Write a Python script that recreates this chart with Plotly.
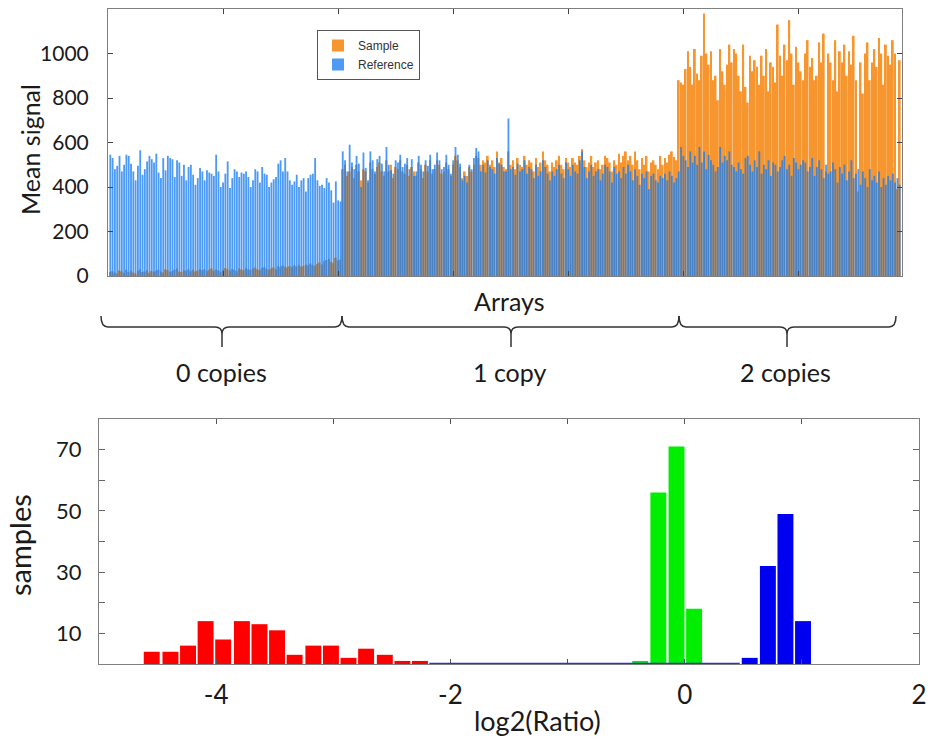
import plotly.graph_objects as go

# ---------------- data: top panel (mean signal per array) ----------------
ref0 = [545, 530, 480, 495, 540, 470, 500, 545, 540, 505, 470, 430, 495, 565, 455, 480, 515, 540, 525, 510,
        550, 465, 440, 530, 475, 540, 530, 525, 445, 520, 510, 450, 500, 430, 490, 500, 455, 410, 440, 485,
        470, 430, 475, 465, 460, 450, 545, 470, 400, 420, 460, 515, 395, 440, 480, 470, 445, 465, 460, 470,
        445, 400, 430, 480, 470, 420, 490, 460, 455, 400, 420, 435, 445, 505, 520, 470, 530, 470, 430, 410,
        425, 455, 400, 430, 440, 380, 440, 455, 460, 530, 430, 405, 410, 395, 440, 420, 385, 330, 425, 340, 335]
smp0 = [18, 22, 15, 12, 25, 20, 14, 28, 18, 24, 16, 12, 22, 30, 18, 20, 26, 15, 22, 19,
        24, 28, 20, 16, 30, 26, 18, 22, 28, 34, 20, 18, 26, 24, 30, 22, 28, 20, 24, 32,
        26, 30, 22, 28, 34, 24, 30, 26, 20, 28, 36, 30, 24, 32, 28, 22, 34, 30, 26, 36,
        30, 28, 34, 38, 30, 26, 36, 40, 32, 28, 34, 38, 30, 44, 40, 46, 42, 38, 44, 40,
        48, 44, 50, 42, 46, 52, 48, 56, 50, 46, 54, 60, 52, 66, 72, 78, 64, 58, 82, 70, 74]
ref1 = [560, 520, 470, 590, 510, 480, 540, 505, 400, 555, 485, 430, 560, 520, 470, 525, 540, 505, 470, 580,
        500, 475, 460, 520, 510, 545, 490, 505, 530, 480, 525, 450, 470, 540, 500, 470, 520, 495, 545, 480,
        500, 555, 520, 480, 490, 545, 500, 460, 520, 580, 545, 505, 430, 450, 420, 500, 480, 530, 575, 560,
        470, 500, 465, 520, 490, 480, 460, 530, 505, 500, 470, 470, 708, 480, 490, 455, 505, 470, 480, 520,
        460, 490, 480, 440, 500, 450, 470, 520, 490, 460, 430, 470, 450, 480, 500, 460, 440, 510, 480, 450,
        500, 470, 460, 520, 560, 490, 440, 470, 500, 450, 470, 480, 430, 460, 500, 490, 470, 420, 490, 460,
        470, 440, 490, 460, 500, 470, 430, 480, 450, 410, 460, 440, 470, 390, 450, 460, 430, 420, 450, 440,
        460, 430, 470, 450, 420, 440]
smp1 = [480, 500, 450, 470, 490, 440, 500, 470, 430, 480, 470, 420, 510, 480, 460, 490, 510, 470, 450, 520,
        470, 500, 440, 490, 480, 520, 470, 460, 500, 450, 490, 470, 450, 510, 480, 440, 500, 470, 520, 460,
        480, 520, 500, 460, 470, 510, 480, 450, 500, 540, 520, 490, 440, 470, 450, 490, 470, 500, 540, 530,
        500, 520, 510, 540, 500, 520, 490, 560, 510, 530, 490, 480, 560, 500, 520, 480, 530, 500, 490, 540,
        500, 520, 510, 470, 530, 490, 510, 560, 520, 500, 470, 510, 490, 520, 540, 500, 480, 530, 510, 490,
        530, 510, 500, 540, 570, 520, 490, 510, 540, 490, 510, 520, 480, 500, 540, 530, 510, 470, 520, 500,
        550, 510, 540, 560, 520, 540, 500, 560, 520, 480, 530, 500, 540, 470, 510, 520, 500, 480, 540, 500,
        530, 510, 545, 560, 535, 520]
ref2 = [470, 580, 540, 520, 490, 560, 510, 540, 500, 580, 510, 560, 480, 545, 520, 500, 470, 490, 580, 510,
        540, 520, 560, 500, 490, 470, 510, 480, 460, 530, 540, 500, 470, 520, 490, 560, 460, 500, 480, 520,
        450, 510, 500, 470, 490, 520, 540, 480, 500, 450, 530, 510, 480, 500, 520, 510, 470, 490, 530, 450,
        490, 520, 480, 440, 500, 460, 470, 510, 480, 420, 490, 460, 500, 430, 470, 520, 440, 460, 480, 410,
        470, 440, 400, 480, 430, 450, 420, 470, 400, 440, 410, 450, 430, 460, 420, 440, 410]
smp2 = [880, 870, 860, 930, 1010, 940, 860, 1020, 910, 880, 990, 1180, 1000, 950, 1010, 880, 900, 790, 1020, 920,
        860, 950, 1040, 960, 1020, 1000, 900, 830, 1040, 850, 780, 990, 920, 970, 940, 860, 990, 900, 1020, 830,
        960, 940, 870, 1130, 990, 900, 1040, 970, 1150, 1000, 860, 1030, 960, 920, 880, 1000, 1060, 940, 980, 880,
        900, 1050, 960, 1090, 470, 1000, 960, 880, 1060, 830, 1010, 960, 1040, 900, 1010, 950, 1080, 880, 380, 960,
        820, 1000, 1050, 880, 960, 1020, 940, 1070, 1000, 860, 1040, 990, 950, 1060, 1000, 390, 970]

reference = ref0 + ref1 + ref2
sample = smp0 + smp1 + smp2
arrays = list(range(1, len(reference) + 1))

# ---------------- data: bottom panel (histogram of log2 ratios) ----------------
red_x = [-4.55, -4.39, -4.24, -4.09, -3.94, -3.78, -3.63, -3.48, -3.33, -3.17, -3.02, -2.87, -2.72, -2.56, -2.41, -2.26]
red_n = [4, 4, 6, 14, 8, 14, 13, 11, 3, 6, 6, 2, 5, 3, 1, 1]
green_x = [-0.38, -0.225, -0.07, 0.08]
green_n = [1, 56, 71, 18]
blue_x = [0.555, 0.71, 0.86, 1.01]
blue_n = [2, 32, 49, 14]

W, H = 930, 744
def px(x):
    return x / W
def py(y):
    return 1 - y / H

FONT = "Lato, Open Sans, sans-serif"
TXT = "#1a1a1a"
AX = "#7f7f7f"

fig = go.Figure()
fig.add_trace(go.Bar(x=arrays, y=sample, name="Sample", marker=dict(color="#f7952e", line=dict(width=0)),
                     xaxis="x", yaxis="y"))
fig.add_trace(go.Bar(x=arrays, y=reference, name="Reference",
                     marker=dict(color="rgba(25,125,240,0.78)", line=dict(width=0)),
                     xaxis="x", yaxis="y"))

hb = 0.136
fig.add_trace(go.Bar(x=red_x, y=red_n, width=hb, marker=dict(color="#ff0000", line=dict(width=0)),
                     showlegend=False, xaxis="x2", yaxis="y2"))
fig.add_trace(go.Bar(x=green_x, y=green_n, width=hb, marker=dict(color="#00ee00", line=dict(width=0)),
                     showlegend=False, xaxis="x2", yaxis="y2"))
fig.add_trace(go.Bar(x=blue_x, y=blue_n, width=hb, marker=dict(color="#0000f0", line=dict(width=0)),
                     showlegend=False, xaxis="x2", yaxis="y2"))

shapes = []
# thin blue baseline between groups (zero-count bins)
shapes.append(dict(type="line", xref="x2", yref="y2", x0=-2.18, x1=0.47, y0=0.2, y1=0.2, layer="above",
                   line=dict(color="#2a2aff", width=1.3)))

def brace(x0, xm, x1):
    yt, yh, yb = 316, 327, 347
    r = 7
    p = (f"M {px(x0)},{py(yt)} Q {px(x0)},{py(yh)} {px(x0 + r)},{py(yh)} "
         f"L {px(xm - r)},{py(yh)} Q {px(xm)},{py(yh)} {px(xm)},{py(yh + r)} L {px(xm)},{py(yb)} "
         f"M {px(xm)},{py(yh + r)} Q {px(xm)},{py(yh)} {px(xm + r)},{py(yh)} "
         f"L {px(x1 - r)},{py(yh)} Q {px(x1)},{py(yh)} {px(x1)},{py(yt)}")
    return dict(type="path", xref="paper", yref="paper", path=p, line=dict(color="#333333", width=1.5))

shapes += [brace(101, 222, 342), brace(342, 511, 679), brace(679, 787, 896)]

annotations = [
    dict(text="Arrays", x=px(510), y=py(301), size=25),
    dict(text="0 copies", x=px(221), y=py(372), size=25),
    dict(text="1 copy", x=px(510), y=py(372), size=25),
    dict(text="2 copies", x=px(785), y=py(372), size=25),
    dict(text="Mean signal", x=px(30), y=py(150), size=25, angle=-90),
    dict(text="samples", x=px(19), y=py(545), size=29, angle=-90),
    dict(text="log2(Ratio)", x=px(537), y=py(720), size=27),
]
ann = []
for a in annotations:
    ann.append(dict(text=a["text"], x=a["x"], y=a["y"], xref="paper", yref="paper", showarrow=False,
                    xanchor="center", yanchor="middle", textangle=a.get("angle", 0),
                    font=dict(family=FONT, size=a["size"], color=TXT)))

fig.update_layout(
    width=W, height=H, autosize=False,
    margin=dict(l=0, r=0, t=0, b=0),
    paper_bgcolor="white", plot_bgcolor="white",
    barmode="overlay", bargap=0.2,
    font=dict(family=FONT, color=TXT),
    showlegend=True,
    legend=dict(x=px(317), y=py(30), xanchor="left", yanchor="top",
                bgcolor="white", bordercolor="#555555", borderwidth=1,
                font=dict(family="Liberation Sans, Arial, sans-serif", size=12, color="#333"),
                itemwidth=30, tracegroupgap=0),
    xaxis=dict(domain=[px(108), px(902)], anchor="y", range=[0, 345], automargin=False,
               tickvals=[50, 100, 150, 200, 250, 300], showticklabels=False,
               ticks="inside", ticklen=5, tickcolor="#444", showline=True, linecolor=AX, mirror="ticks",
               showgrid=False, zeroline=False),
    yaxis=dict(domain=[py(276), py(9)], anchor="x", range=[0, 1200], automargin=False,
               tickvals=[0, 200, 400, 600, 800, 1000], ticks="inside", ticklen=5, tickcolor="#444",
               showline=True, linecolor=AX, mirror="ticks", showgrid=False, zeroline=False,
               ticklabelstandoff=14,
               tickfont=dict(family=FONT, size=21, color=TXT)),
    xaxis2=dict(domain=[px(99), px(919)], anchor="y2", range=[-5, 2], automargin=False,
                tickvals=[-5, -4, -3, -2, -1, 0, 1, 2], ticktext=["", "-4", "", "-2", "", "0", "", "2"],
                ticks="inside", ticklen=5, tickcolor="#555", showline=True, linecolor=AX, mirror="ticks",
                showgrid=False, zeroline=False, ticklabelstandoff=8,
                tickfont=dict(family=FONT, size=26, color=TXT)),
    yaxis2=dict(domain=[py(664), py(419)], anchor="x2", range=[0, 80], automargin=False,
                tickvals=[10, 20, 30, 40, 50, 60, 70], ticktext=["10", "", "30", "", "50", "", "70"],
                ticks="inside", ticklen=6, tickcolor="#666", showline=True, linecolor=AX, mirror="ticks",
                showgrid=False, zeroline=False, ticklabelstandoff=12,
                tickfont=dict(family=FONT, size=22, color=TXT)),
    shapes=shapes,
    annotations=ann,
)

fig.write_html("out.html", config={"displayModeBar": False},
               post_script="document.documentElement.style.margin='0px';document.body.style.margin='0px';"
                           "document.documentElement.style.overflow='hidden';document.body.style.overflow='hidden';")
